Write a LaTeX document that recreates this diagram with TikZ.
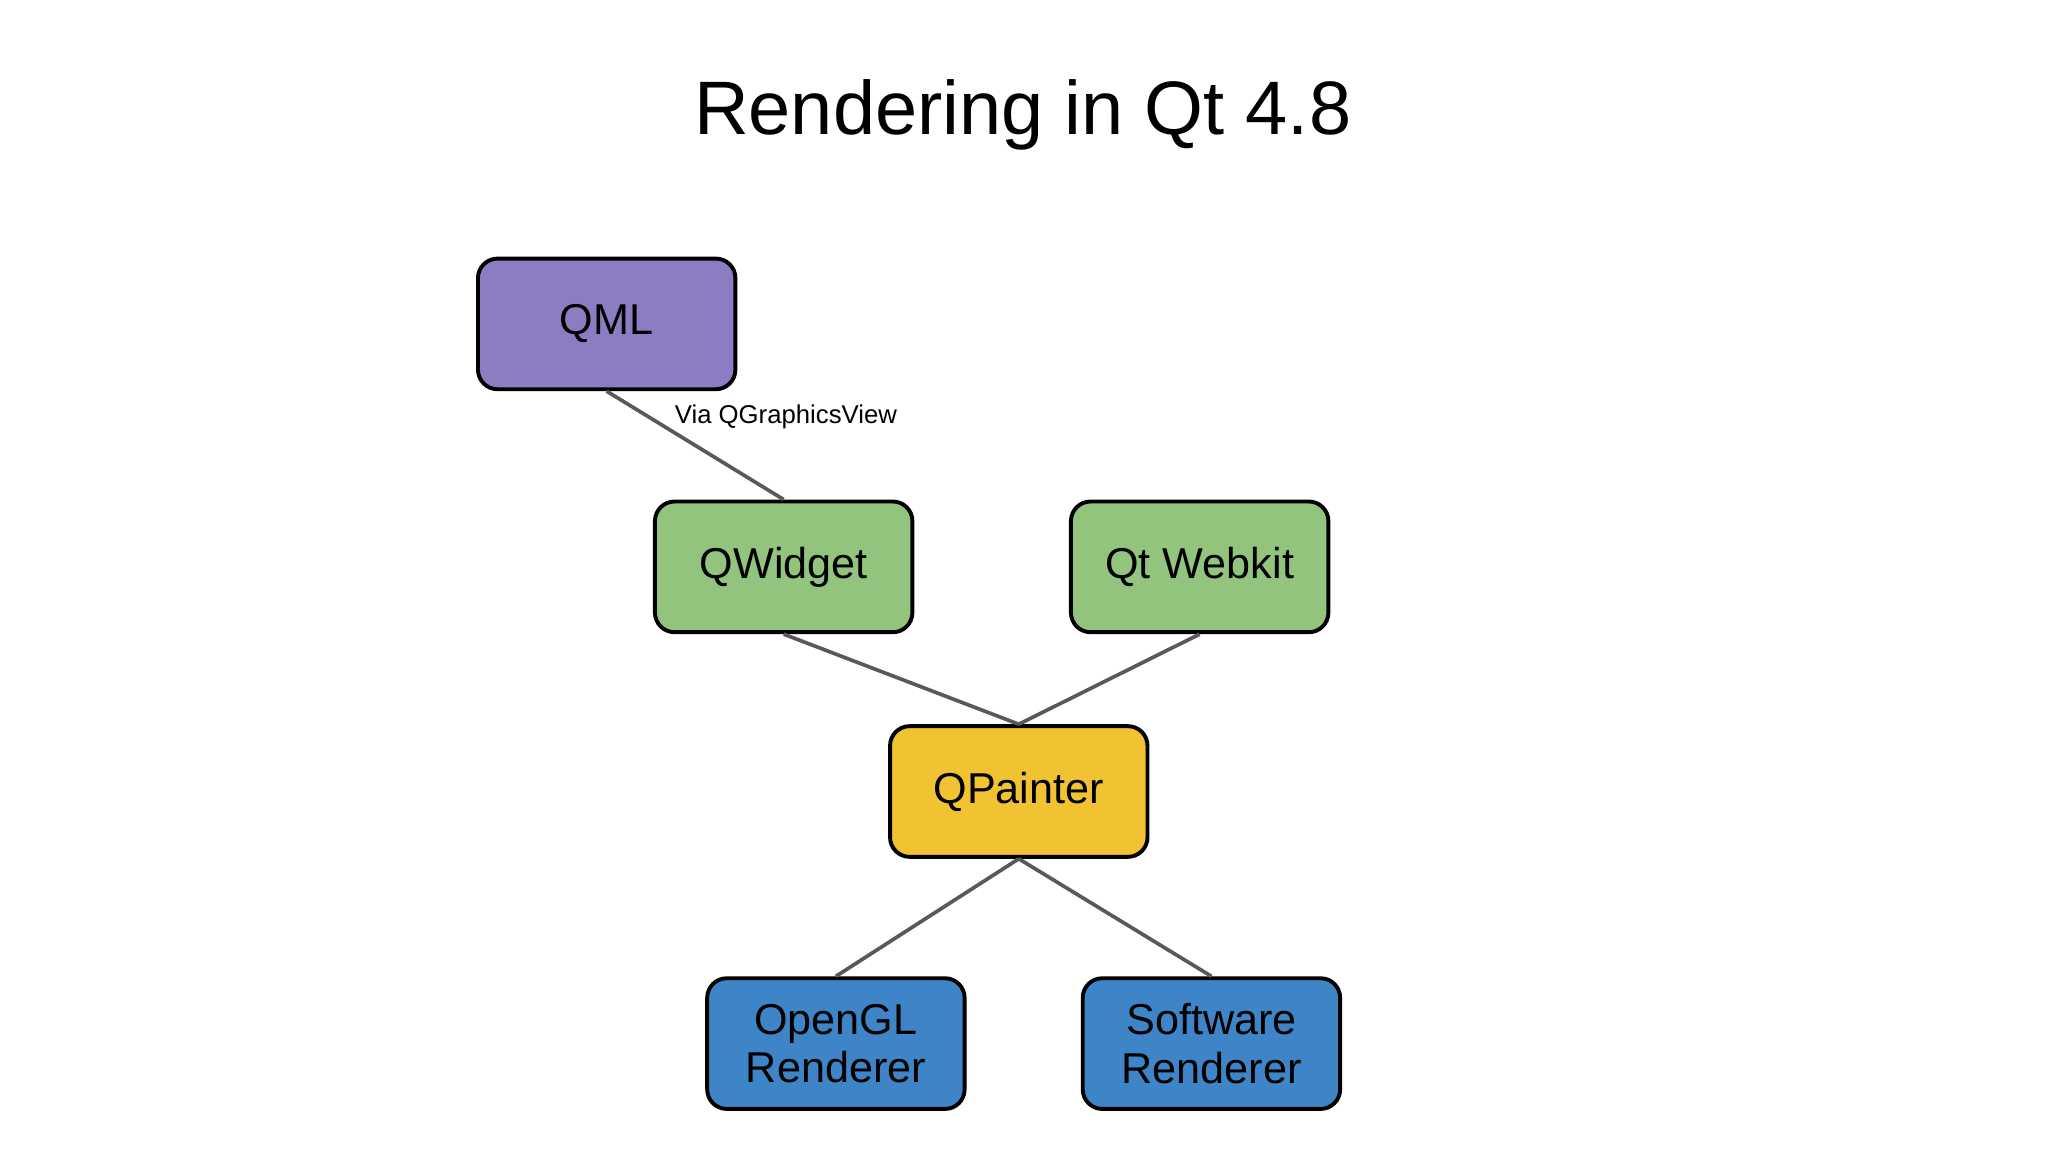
\documentclass[tikz,border=0pt]{standalone}
\usepackage{fontspec}
\setmainfont{Liberation Sans}
\begin{document}
\begin{tikzpicture}[x=0.01cm,y=-0.01cm,
  box/.style={draw=black,line width=0.85pt,rounded corners=0.15cm,minimum width=1.97cm,minimum height=1.0cm,inner sep=0pt,align=center,font=\fontsize{9.4pt}{10.6pt}\selectfont},
  link/.style={draw=black!65,line width=0.8pt}]
\useasboundingbox (0,0) rectangle (1568,882);
\definecolor{cqml}{HTML}{8E7CC3}
\definecolor{cgreen}{HTML}{93C47D}
\definecolor{cyel}{HTML}{F1C232}
\definecolor{cblue}{HTML}{3D85C6}
\node[font=\fontsize{16.5pt}{18pt}\selectfont] (title) at (783,88) {Rendering in Qt 4.8};
\node[box,fill=cqml] (qml) at (464.5,248) {QML};
\node[box,fill=cgreen] (qw) at (600,434) {QWidget};
\node[box,fill=cgreen] (wk) at (918.5,434) {Qt Webkit};
\node[box,fill=cyel] (qp) at (780,606) {QPainter};
\node[box,fill=cblue] (gl) at (640,799) {OpenGL\\Renderer};
\node[box,fill=cblue] (sw) at (927.5,799) {Software\\Renderer};
\draw[link] (qml.south) -- (qw.north);
\draw[link] (qw.south) -- (qp.north);
\draw[link] (wk.south) -- (qp.north);
\draw[link] (qp.south) -- (gl.north);
\draw[link] (qp.south) -- (sw.north);
\node[anchor=west,inner sep=0pt,font=\fontsize{5.6pt}{6.5pt}\selectfont] (lbl) at (516,319) {Via QGraphicsView};
\end{tikzpicture}
\end{document}
